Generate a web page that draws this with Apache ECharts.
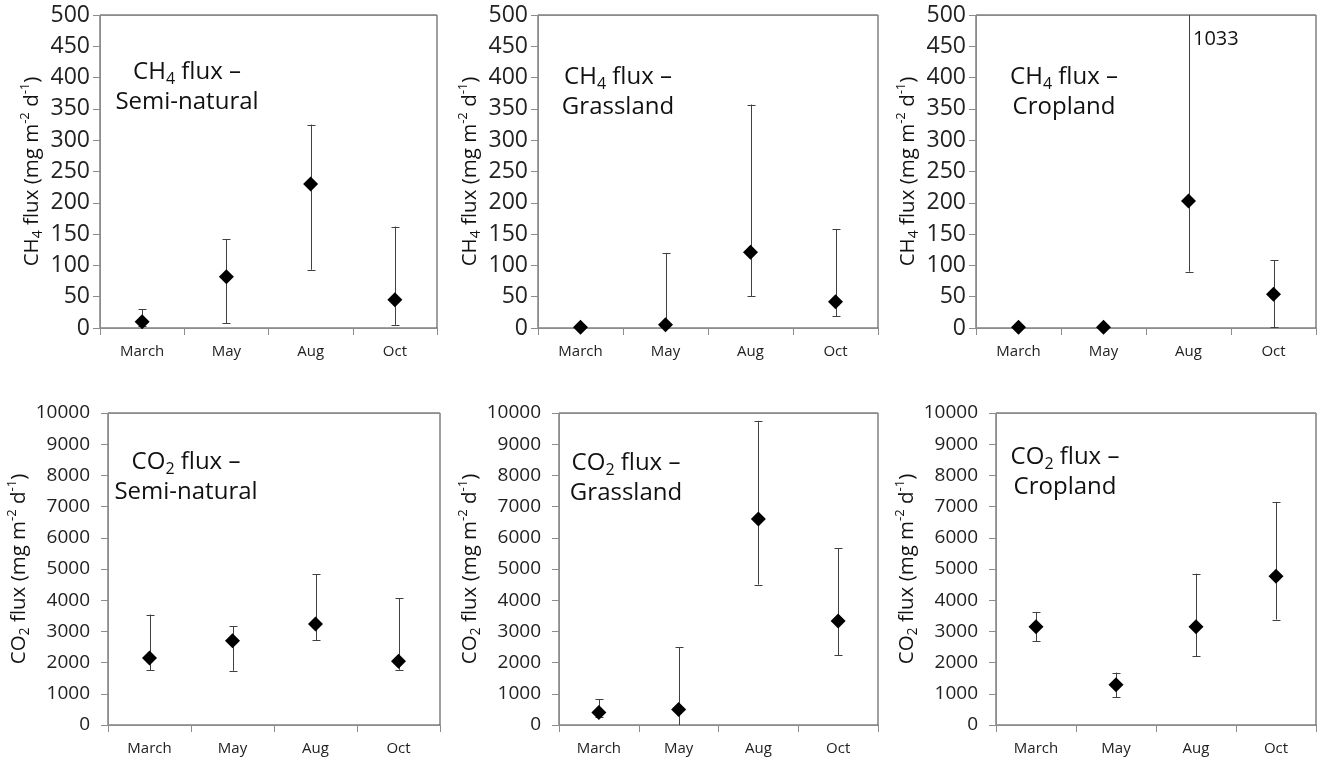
<!DOCTYPE html>
<html>
<head>
<meta charset="utf-8">
<title>CH4 and CO2 flux</title>
<script src="https://cdn.jsdelivr.net/npm/echarts@6/dist/echarts.min.js"></script>
<style>
html, body { margin: 0; padding: 0; background: #fff; }
#chart { width: 1326px; height: 762px; }
</style>
</head>
<body>
<div id="chart"></div>
<script>
var months = ['March', 'May', 'Aug', 'Oct'];

// CH4 flux (mg m-2 d-1): mean and the two ends of the error bar (null = no bar)
var ch4SemiMean  = [10, 82, 230, 45];
var ch4SemiLow   = [3, 8, 93, 5];
var ch4SemiHigh  = [30, 142, 325, 162];
var ch4GrassMean = [1, 5, 121, 42];
var ch4GrassLow  = [null, 0, 51, 19];
var ch4GrassHigh = [null, 120, 357, 158];
var ch4CropMean  = [1, 1, 203, 54];
var ch4CropLow   = [null, null, 90, 1];
var ch4CropHigh  = [null, null, 1033, 108];

// CO2 flux (mg m-2 d-1)
var co2SemiMean  = [2150, 2700, 3240, 2040];
var co2SemiLow   = [1760, 1740, 2720, 1770];
var co2SemiHigh  = [3540, 3160, 4830, 4060];
var co2GrassMean = [400, 500, 6600, 3330];
var co2GrassLow  = [250, 0, 4500, 2230];
var co2GrassHigh = [830, 2490, 9750, 5670];
var co2CropMean  = [3150, 1290, 3150, 4770];
var co2CropLow   = [2680, 890, 2200, 3380];
var co2CropHigh  = [3610, 1680, 4850, 7150];

var ch4Ticks = {max: 500, step: 50};
var co2Ticks = {max: 10000, step: 1000};

var fontFam = 'Open Sans';
var axisGray = '#8c8c8c';
var barColor = '#404040';

var panels = [
  {rect: [100, 15, 337, 313], ticks: ch4Ticks, tickFont: 23, tickMargin: 10, gas: 'CH', sub: '4', land: 'Semi-natural', mean: ch4SemiMean, low: ch4SemiLow, high: ch4SemiHigh, gap: 55, note: [187, 87]},
  {rect: [538, 15, 340, 313], ticks: ch4Ticks, tickFont: 23, tickMargin: 10, gas: 'CH', sub: '4', land: 'Grassland', mean: ch4GrassMean, low: ch4GrassLow, high: ch4GrassHigh, gap: 55, note: [618, 92]},
  {rect: [976, 15, 340, 313], ticks: ch4Ticks, tickFont: 23, tickMargin: 10, gas: 'CH', sub: '4', land: 'Cropland', mean: ch4CropMean, low: ch4CropLow, high: ch4CropHigh, gap: 55, note: [1064, 92]},
  {rect: [108, 413, 332, 312], ticks: co2Ticks, tickFont: 19, tickMargin: 18, gas: 'CO', sub: '2', land: 'Semi-natural', mean: co2SemiMean, low: co2SemiLow, high: co2SemiHigh, gap: 73, note: [186, 477]},
  {rect: [559, 413, 319, 312], ticks: co2Ticks, tickFont: 19, tickMargin: 18, gas: 'CO', sub: '2', land: 'Grassland', mean: co2GrassMean, low: co2GrassLow, high: co2GrassHigh, gap: 73, note: [626, 478]},
  {rect: [996, 413, 320, 312], ticks: co2Ticks, tickFont: 19, tickMargin: 18, gas: 'CO', sub: '2', land: 'Cropland', mean: co2CropMean, low: co2CropLow, high: co2CropHigh, gap: 73, note: [1065, 472]}
];

function renderErrorBar(params, api) {
  var x = api.value(0);
  var top = api.coord([x, api.value(2)]);
  var bot = api.coord([x, api.value(1)]);
  var cx = Math.round(top[0]) + 0.5;
  var st = {stroke: barColor, lineWidth: 1};
  return {
    type: 'group',
    children: [
      {type: 'line', shape: {x1: cx, y1: top[1], x2: cx, y2: bot[1]}, style: st},
      {type: 'line', shape: {x1: cx - 4, y1: Math.round(top[1]) + 0.5, x2: cx + 4, y2: Math.round(top[1]) + 0.5}, style: st},
      {type: 'line', shape: {x1: cx - 4, y1: Math.round(bot[1]) + 0.5, x2: cx + 4, y2: Math.round(bot[1]) + 0.5}, style: st}
    ]
  };
}

var grids = [], xAxes = [], yAxes = [], series = [], graphics = [];

panels.forEach(function (p, i) {
  grids.push({left: p.rect[0], top: p.rect[1], width: p.rect[2], height: p.rect[3],
    show: true, borderColor: barColor, borderWidth: 1, backgroundColor: 'transparent'});

  xAxes.push({
    gridIndex: i, type: 'category', data: months, boundaryGap: true,
    axisLine: {lineStyle: {color: axisGray}},
    axisTick: {show: true, length: 7, lineStyle: {color: axisGray}},
    axisLabel: {color: '#222', fontFamily: fontFam, fontSize: 15, margin: 16},
    splitLine: {show: false}
  });
  // grey top edge of the plot box
  xAxes.push({
    gridIndex: i, type: 'category', data: months, position: 'top',
    axisLine: {lineStyle: {color: axisGray}},
    axisTick: {show: false}, axisLabel: {show: false}, splitLine: {show: false}
  });

  yAxes.push({
    gridIndex: i, type: 'value', min: 0, max: p.ticks.max, interval: p.ticks.step,
    axisLine: {show: true, lineStyle: {color: axisGray}},
    axisTick: {show: true, length: 7, lineStyle: {color: axisGray}},
    axisLabel: {color: '#222', fontFamily: fontFam, fontSize: p.tickFont, margin: p.tickMargin,
      formatter: function (v) { return String(v); }},
    splitLine: {show: false},
    name: '{n|' + p.gas + '}{s|' + p.sub + '}{n| flux (mg m}{p|-2}{n| d}{p|-1}{n|)}',
    nameLocation: 'middle', nameRotate: 90, nameGap: p.gap,
    nameTextStyle: {
      rich: {
        n: {fontFamily: fontFam, fontSize: 20.5, color: '#111', lineHeight: 26},
        s: {fontFamily: fontFam, fontSize: 14, color: '#111', lineHeight: 12, verticalAlign: 'bottom'},
        p: {fontFamily: fontFam, fontSize: 13, color: '#111', lineHeight: 12, verticalAlign: 'top'}
      }
    }
  });

  var bars = [];
  months.forEach(function (m, k) {
    if (p.low[k] !== null) bars.push([k, p.low[k], p.high[k]]);
  });

  series.push({
    type: 'custom', xAxisIndex: 2 * i, yAxisIndex: i, clip: true,
    renderItem: renderErrorBar, encode: {x: 0, y: [1, 2]}, data: bars, z: 2, silent: true
  });
  series.push({
    type: 'scatter', xAxisIndex: 2 * i, yAxisIndex: i, symbol: 'diamond', symbolSize: 15,
    itemStyle: {color: '#000', opacity: 1}, data: p.mean, z: 3, silent: true
  });

  graphics.push({
    type: 'text', x: p.note[0], y: p.note[1],
    style: {
      text: '{n|' + p.gas + '}{s|' + p.sub + '}{n| flux –}\n{n|' + p.land + '}',
      align: 'center', verticalAlign: 'middle',
      rich: {
        n: {fontFamily: fontFam, fontSize: 24, fill: '#111', lineHeight: 30},
        s: {fontFamily: fontFam, fontSize: 16, fill: '#111', lineHeight: 14, verticalAlign: 'bottom'}
      }
    }
  });
});

// the Aug cropland CH4 bar runs off the axis: its top value is written beside it
graphics.push({
  type: 'text', x: 1193, y: 39,
  style: {text: String(ch4CropHigh[2]), fontFamily: fontFam, fontSize: 20, fill: '#111', align: 'left', verticalAlign: 'middle'}
});

var chart = echarts.init(document.getElementById('chart'));
chart.setOption({
  animation: false,
  backgroundColor: '#fff',
  grid: grids,
  xAxis: xAxes,
  yAxis: yAxes,
  series: series,
  graphic: graphics
});
</script>
</body>
</html>
